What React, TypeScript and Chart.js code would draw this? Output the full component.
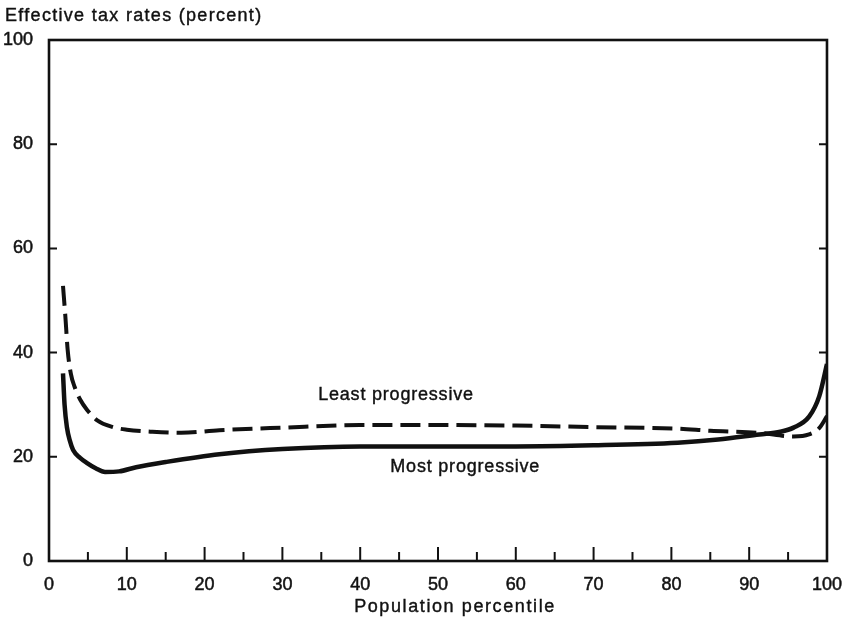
import React, { useEffect, useRef } from "react";
import { Chart, registerables } from "chart.js";

Chart.register(...registerables);

// ---- data ----
const yAxisTitle = "Effective tax rates (percent)";
const xAxisTitle = "Population percentile";
const xTickValues = [0, 10, 20, 30, 40, 50, 60, 70, 80, 90, 100];
const yTickValues = [0, 20, 40, 60, 80, 100];

const leastX = [1.8, 2.1, 2.4, 2.8, 3.3, 4.0, 4.9, 6.2, 8.2, 10, 13.3, 17, 21.9, 30, 40, 50, 60, 70, 80.8, 85, 91.3, 95.7, 97.7, 99, 100];
const leastY = [52.8, 47, 40.5, 36, 33.4, 31, 29, 27, 25.7, 25.2, 24.8, 24.6, 25.1, 25.6, 26.1, 26.1, 26, 25.7, 25.4, 25, 24.6, 23.9, 24.3, 25.5, 27.8];

const mostX = [1.8, 2.0, 2.3, 2.7, 3.1, 4.0, 4.9, 6.0, 7.2, 9, 11.2, 15, 21.9, 30, 40, 50, 60, 70, 80.8, 86, 91.3, 94, 95.7, 97.7, 99, 100];
const mostY = [36, 30, 25.7, 23, 21.3, 19.8, 18.8, 17.8, 17.1, 17.2, 18, 19, 20.5, 21.5, 22, 22, 22, 22.2, 22.7, 23.3, 24.3, 24.8, 25.6, 27.7, 31.6, 37.8];

const seriesLabels = ["Least progressive", "Most progressive"];
const labelAnchorX = [44.6, 53.5];
const labelAnchorY = [31.9, 18.1];

const FONT = "'Liberation Sans', Arial, Helvetica, sans-serif";
const INK = "#111";

function drawText(ctx: any, text: string, x: number, y: number, spacing: number) {
  ctx.letterSpacing = spacing + "px";
  ctx.fillText(text, x, y);
  ctx.strokeText(text, x, y);
}

const decorPlugin = {
  id: "decor",
  afterDraw(chart: any) {
    const { ctx, chartArea } = chart;
    const xs = chart.scales.x;
    const ys = chart.scales.y;
    const { left, right, top, bottom } = chartArea;
    ctx.save();
    // frame
    ctx.strokeStyle = INK;
    ctx.lineWidth = 2.6;
    ctx.strokeRect(left, top, right - left, bottom - top);
    // x ticks (inward)
    ctx.lineWidth = 2;
    for (let v = 5; v < 100; v += 5) {
      const px = xs.getPixelForValue(v);
      const len = v % 10 === 0 ? 14 : 9;
      ctx.beginPath();
      ctx.moveTo(px, bottom);
      ctx.lineTo(px, bottom - len);
      ctx.stroke();
    }
    // y ticks (inward, both sides)
    for (const v of yTickValues) {
      if (v === 0 || v === 100) continue;
      const py = ys.getPixelForValue(v);
      ctx.beginPath();
      ctx.moveTo(left, py);
      ctx.lineTo(left + 8, py);
      ctx.moveTo(right, py);
      ctx.lineTo(right - 8, py);
      ctx.stroke();
    }
    // texts
    ctx.fillStyle = INK;
    ctx.strokeStyle = INK;
    ctx.lineWidth = 0.4;
    ctx.font = `18px ${FONT}`;
    ctx.textAlign = "left";
    ctx.textBaseline = "alphabetic";
    drawText(ctx, yAxisTitle, 5, 21, 1.3);
    ctx.textAlign = "center";
    ctx.textBaseline = "middle";
    drawText(ctx, xAxisTitle, (left + right) / 2 + 17, 607, 1.6);
    for (let i = 0; i < seriesLabels.length; i++) {
      drawText(
        ctx,
        seriesLabels[i],
        xs.getPixelForValue(labelAnchorX[i]),
        ys.getPixelForValue(labelAnchorY[i]),
        0.8
      );
    }
    ctx.restore();
  },
};

export default function App() {
  const ref = useRef<HTMLCanvasElement | null>(null);
  useEffect(() => {
    if (!ref.current) return;
    const chart = new Chart(ref.current, {
      type: "line",
      data: {
        datasets: [
          {
            label: seriesLabels[0],
            data: leastX.map((x, i) => ({ x, y: leastY[i] })),
            borderColor: INK,
            borderWidth: 4,
            borderDash: [20, 8],
            pointRadius: 0,
            cubicInterpolationMode: "monotone",
            fill: false,
          },
          {
            label: seriesLabels[1],
            data: mostX.map((x, i) => ({ x, y: mostY[i] })),
            borderColor: INK,
            borderWidth: 4.5,
            pointRadius: 0,
            cubicInterpolationMode: "monotone",
            fill: false,
          },
        ],
      },
      options: {
        animation: false,
        responsive: false,
        maintainAspectRatio: false,
        layout: { padding: { top: 40, right: 16, left: 0, bottom: 0 } },
        plugins: { legend: { display: false }, tooltip: { enabled: false }, title: { display: false } },
        scales: {
          x: {
            type: "linear",
            min: 0,
            max: 100,
            border: { display: false },
            grid: { display: false },
            afterFit: (s: any) => { s.height = 63; },
            afterBuildTicks: (s: any) => { s.ticks = xTickValues.map((v) => ({ value: v })); },
            ticks: {
              color: INK,
              font: { family: FONT, size: 18 },
              textStrokeColor: INK,
              textStrokeWidth: 0.5,
              padding: 5,
              maxRotation: 0,
              autoSkip: false,
            },
          },
          y: {
            type: "linear",
            min: 0,
            max: 100,
            border: { display: false },
            grid: { display: false },
            afterFit: (s: any) => { s.width = 49; },
            afterBuildTicks: (s: any) => { s.ticks = yTickValues.map((v) => ({ value: v })); },
            ticks: {
              color: INK,
              font: { family: FONT, size: 18 },
              textStrokeColor: INK,
              textStrokeWidth: 0.5,
              padding: 8,
            },
          },
        },
      },
      plugins: [decorPlugin],
    });
    return () => chart.destroy();
  }, []);
  return (
    <div style={{ position: "fixed", left: 0, top: 0, width: 847, height: 624, background: "#fff" }}>
      <canvas ref={ref} width={847} height={624} />
    </div>
  );
}
